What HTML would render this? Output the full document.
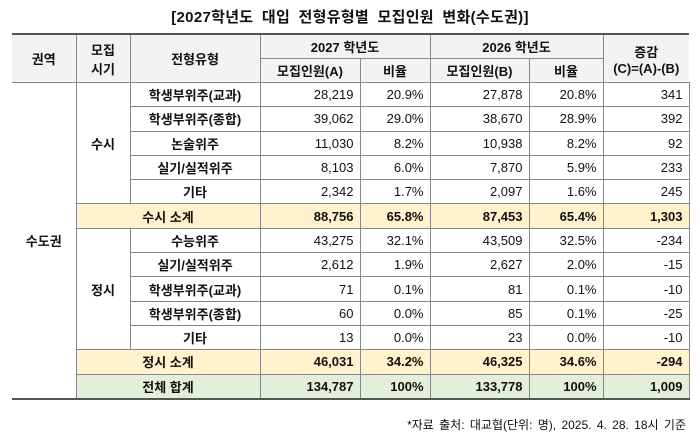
<!DOCTYPE html>
<html><head><meta charset="utf-8"><style>
body{margin:0;width:700px;height:446px;background:#fff;font-family:"Liberation Sans","Noto Sans CJK KR",sans-serif;color:#111;position:relative;overflow:hidden}
.title{position:absolute;top:6px;left:0;width:700px;text-align:center;font-size:15px;font-weight:bold;letter-spacing:0.3px;word-spacing:4px}
table{position:absolute;left:12px;top:33px;border-collapse:collapse;table-layout:fixed;font-size:13px;border-top:2px solid #555;border-bottom:2px solid #555}
td{border:1px solid #888;padding:0 6px;height:23.3px;text-align:center;white-space:nowrap;overflow:hidden}
td.n{text-align:right}
.h td{background:#f2f2f2;font-weight:bold;height:23px}
.y td{background:#fff2cc;font-weight:bold}
.g td{background:#e2efda;font-weight:bold}
td.w{background:#fff!important}
.foot{position:absolute;right:14px;top:416px;font-size:12px;word-spacing:2px}
</style></head><body>
<div class="title">[2027학년도 대입 전형유형별 모집인원 변화(수도권)]</div>
<table>
<colgroup><col style="width:64px"><col style="width:54px"><col style="width:130px"><col style="width:100px"><col style="width:70px"><col style="width:99px"><col style="width:74px"><col style="width:86px"></colgroup>
<tr class="h"><td rowspan="2" style="border-left:none">권역</td><td rowspan="2">모집<br>시기</td><td rowspan="2">전형유형</td><td colspan="2">2027 학년도</td><td colspan="2">2026 학년도</td><td rowspan="2" style="border-right:none">증감<br>(C)=(A)-(B)</td></tr>
<tr class="h"><td>모집인원(A)</td><td>비율</td><td>모집인원(B)</td><td>비율</td></tr>
<tr><td rowspan="13" class="w" style="font-weight:bold;border-left:none">수도권</td><td rowspan="5" style="font-weight:bold">수시</td><td style="font-weight:bold">학생부위주(교과)</td><td class="n">28,219</td><td class="n">20.9%</td><td class="n">27,878</td><td class="n">20.8%</td><td class="n">341</td></tr>
<tr><td style="font-weight:bold">학생부위주(종합)</td><td class="n">39,062</td><td class="n">29.0%</td><td class="n">38,670</td><td class="n">28.9%</td><td class="n">392</td></tr>
<tr><td style="font-weight:bold">논술위주</td><td class="n">11,030</td><td class="n">8.2%</td><td class="n">10,938</td><td class="n">8.2%</td><td class="n">92</td></tr>
<tr><td style="font-weight:bold">실기/실적위주</td><td class="n">8,103</td><td class="n">6.0%</td><td class="n">7,870</td><td class="n">5.9%</td><td class="n">233</td></tr>
<tr><td style="font-weight:bold">기타</td><td class="n">2,342</td><td class="n">1.7%</td><td class="n">2,097</td><td class="n">1.6%</td><td class="n">245</td></tr>
<tr class="y"><td colspan="2">수시 소계</td><td class="n">88,756</td><td class="n">65.8%</td><td class="n">87,453</td><td class="n">65.4%</td><td class="n">1,303</td></tr>
<tr><td rowspan="5" style="font-weight:bold">정시</td><td style="font-weight:bold">수능위주</td><td class="n">43,275</td><td class="n">32.1%</td><td class="n">43,509</td><td class="n">32.5%</td><td class="n">-234</td></tr>
<tr><td style="font-weight:bold">실기/실적위주</td><td class="n">2,612</td><td class="n">1.9%</td><td class="n">2,627</td><td class="n">2.0%</td><td class="n">-15</td></tr>
<tr><td style="font-weight:bold">학생부위주(교과)</td><td class="n">71</td><td class="n">0.1%</td><td class="n">81</td><td class="n">0.1%</td><td class="n">-10</td></tr>
<tr><td style="font-weight:bold">학생부위주(종합)</td><td class="n">60</td><td class="n">0.0%</td><td class="n">85</td><td class="n">0.1%</td><td class="n">-25</td></tr>
<tr><td style="font-weight:bold">기타</td><td class="n">13</td><td class="n">0.0%</td><td class="n">23</td><td class="n">0.0%</td><td class="n">-10</td></tr>
<tr class="y"><td colspan="2">정시 소계</td><td class="n">46,031</td><td class="n">34.2%</td><td class="n">46,325</td><td class="n">34.6%</td><td class="n">-294</td></tr>
<tr class="g"><td colspan="2">전체 합계</td><td class="n">134,787</td><td class="n">100%</td><td class="n">133,778</td><td class="n">100%</td><td class="n">1,009</td></tr>
</table>
<div class="foot">*자료 출처: 대교협(단위: 명), 2025. 4. 28. 18시 기준</div>
</body></html>
